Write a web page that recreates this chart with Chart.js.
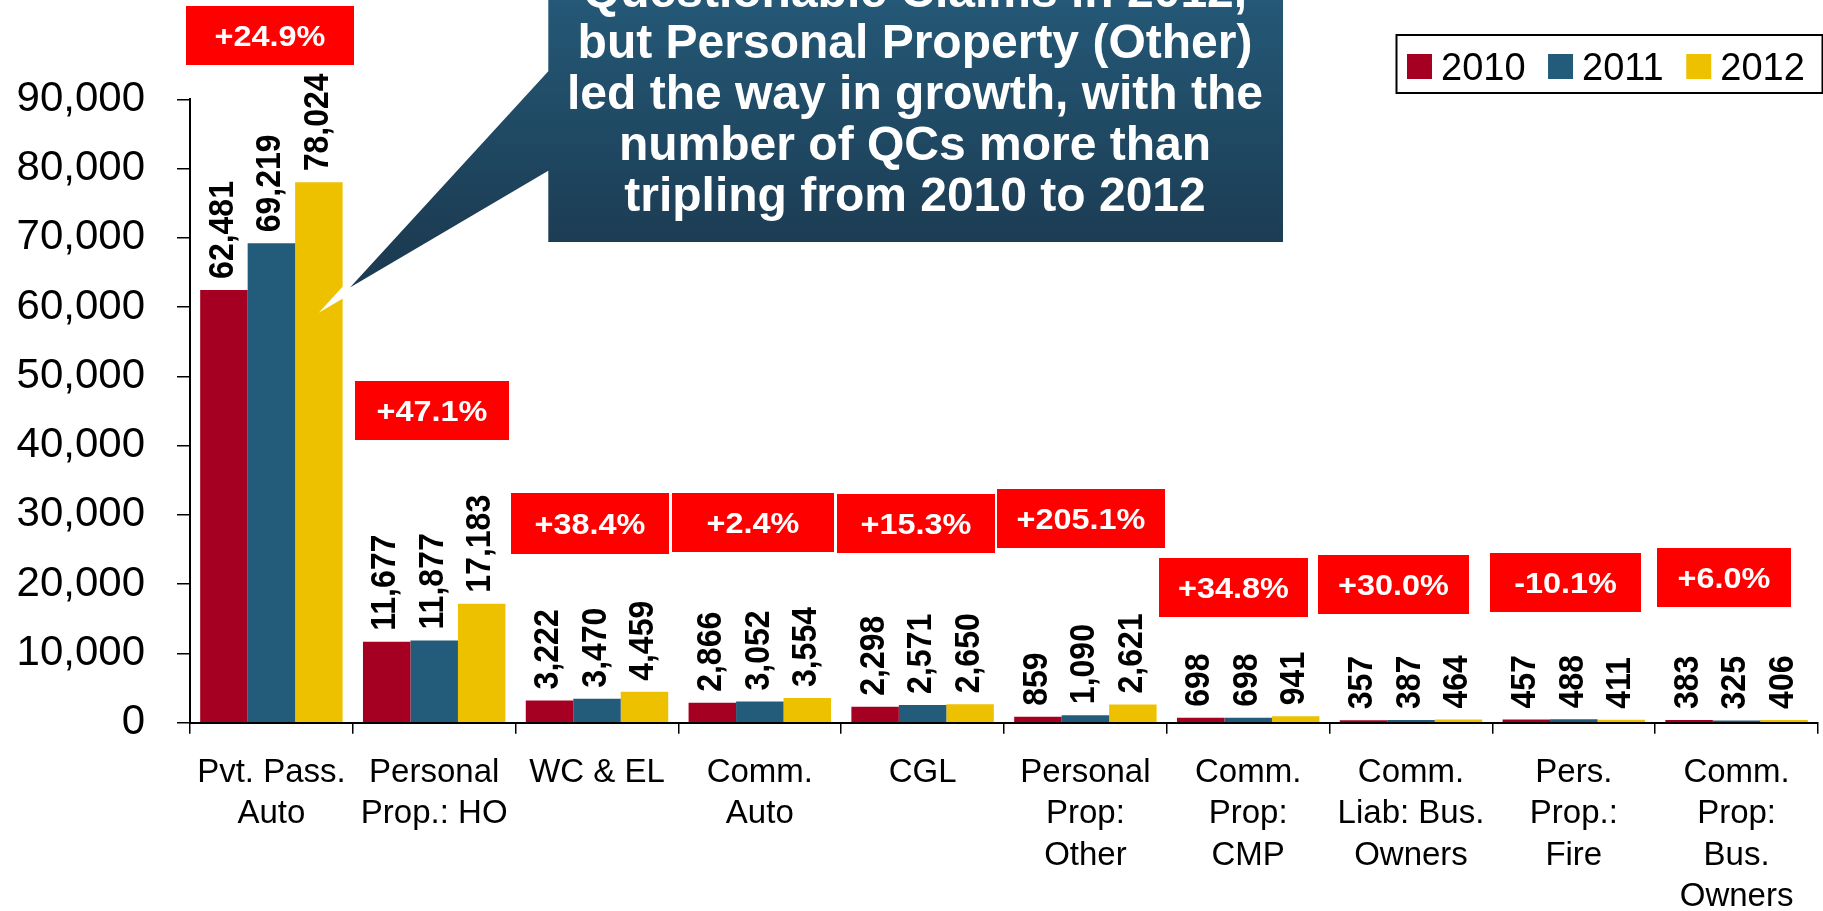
<!DOCTYPE html>
<html>
<head>
<meta charset="utf-8">
<title>Questionable Claims by Line of Insurance, 2010–2012</title>
<script src="https://cdn.jsdelivr.net/npm/chart.js@4.4.1/dist/chart.umd.min.js"></script>
<style>
  html, body { margin: 0; padding: 0; background: #ffffff; overflow: hidden; }
  canvas { display: block; }
</style>
</head>
<body>
<canvas id="chart" width="1823" height="911"></canvas>
<script>
// ---- data ----
const categories = [
  ['Pvt. Pass.', 'Auto'],
  ['Personal', 'Prop.: HO'],
  ['WC & EL'],
  ['Comm.', 'Auto'],
  ['CGL'],
  ['Personal', 'Prop:', 'Other'],
  ['Comm.', 'Prop:', 'CMP'],
  ['Comm.', 'Liab: Bus.', 'Owners'],
  ['Pers.', 'Prop.:', 'Fire'],
  ['Comm.', 'Prop:', 'Bus.', 'Owners']
];
const years = ['2010', '2011', '2012'];
const qc2010 = [62481, 11677, 3222, 2866, 2298, 859, 698, 357, 457, 383];
const qc2011 = [69219, 11877, 3470, 3052, 2571, 1090, 698, 387, 488, 325];
const qc2012 = [78024, 17183, 4459, 3554, 2650, 2621, 941, 464, 411, 406];
const growthLabels = ['+24.9%', '+47.1%', '+38.4%', '+2.4%', '+15.3%', '+205.1%', '+34.8%', '+30.0%', '-10.1%', '+6.0%'];
const yMin = 0, yMax = 90000, yStep = 10000;
const calloutLines = [
  'Questionable Claims in 2012,',
  'but Personal Property (Other)',
  'led the way in growth, with the',
  'number of QCs more than',
  'tripling from 2010 to 2012'
];

// ---- styling ----
const FONT = "'Liberation Sans', Arial, Helvetica, sans-serif";
const seriesColors = ['#A50021', '#235C7B', '#EDC100'];
const series = [qc2010, qc2011, qc2012];
// growth badge placement: [offset of left edge from category centre, width, top, height]
const badgeLayout = [
  [-85.4, 168, 6, 59],
  [-79.2, 154, 381, 59],
  [-86.0, 158, 493, 61],
  [-87.8, 162, 493, 59],
  [-85.6, 158, 494, 59],
  [-88.4, 168, 489, 59],
  [-89.2, 149, 558, 59],
  [-93.0, 151, 555, 59],
  [-83.8, 151, 553, 59],
  [-79.6, 134, 548, 59]
];
const fmt = v => Number(v).toLocaleString('en-US');

// rotated value labels above every bar
const valueLabels = {
  id: 'valueLabels',
  afterDatasetsDraw(chart) {
    const ctx = chart.ctx;
    ctx.save();
    ctx.font = 'bold 32px ' + FONT;
    ctx.fillStyle = '#000000';
    ctx.textAlign = 'left';
    ctx.textBaseline = 'middle';
    chart.data.datasets.forEach((ds, di) => {
      chart.getDatasetMeta(di).data.forEach((bar, i) => {
        ctx.save();
        ctx.translate(bar.x - 1, bar.y - 11);
        ctx.scale(1.1, 1);
        ctx.rotate(-Math.PI / 2);
        ctx.fillText(fmt(ds.data[i]), 0, 0);
        ctx.restore();
      });
    });
    ctx.restore();
  }
};

// red growth badges per category
const growthBadges = {
  id: 'growthBadges',
  afterDraw(chart) {
    const ctx = chart.ctx;
    const xs = chart.scales.x;
    ctx.save();
    growthLabels.forEach((txt, i) => {
      const [dx, w, top, h] = badgeLayout[i];
      const left = xs.getPixelForValue(i) + dx;
      ctx.fillStyle = '#FF0000';
      ctx.fillRect(left, top, w, h);
      ctx.save();
      ctx.translate(left + w / 2, top + h / 2 + 2);
      ctx.scale(1.08, 1);
      ctx.font = 'bold 30px ' + FONT;
      ctx.fillStyle = '#FFFFFF';
      ctx.textAlign = 'center';
      ctx.textBaseline = 'middle';
      ctx.fillText(txt, 0, 0);
      ctx.restore();
    });
    ctx.restore();
  }
};

// boxed legend in the top-right corner
const boxedLegend = {
  id: 'boxedLegend',
  afterDraw(chart) {
    const ctx = chart.ctx;
    ctx.save();
    ctx.strokeStyle = '#000000';
    ctx.lineWidth = 2;
    ctx.strokeRect(1396.5, 35, 426, 58);
    ctx.font = '38px ' + FONT;
    ctx.textAlign = 'left';
    ctx.textBaseline = 'alphabetic';
    let x = 1407;
    chart.data.datasets.forEach(ds => {
      ctx.fillStyle = ds.backgroundColor;
      ctx.fillRect(x, 54, 25, 25);
      ctx.fillStyle = '#000000';
      ctx.fillText(ds.label, x + 34, 80);
      x += 34 + ctx.measureText(ds.label).width + 22.5;
    });
    ctx.restore();
  }
};

// dark callout with a pointer towards the first category
const callout = {
  id: 'callout',
  afterDraw(chart) {
    const ctx = chart.ctx;
    ctx.save();
    const grad = ctx.createLinearGradient(0, -100, 0, 245);
    grad.addColorStop(0, '#29678A');
    grad.addColorStop(0.3, '#245876');
    grad.addColorStop(1, '#1C3C53');
    ctx.beginPath();
    ctx.moveTo(545.3, -100);
    ctx.lineTo(1286, -100);
    ctx.lineTo(1286, 245);
    ctx.lineTo(545.3, 245);
    ctx.lineTo(545.3, 176);
    ctx.lineTo(334.5, 300);
    ctx.lineTo(545.3, 70);
    ctx.closePath();
    ctx.fillStyle = grad;
    ctx.fill();
    ctx.lineJoin = 'miter';
    ctx.miterLimit = 20;
    ctx.lineWidth = 6;
    ctx.strokeStyle = '#FFFFFF';
    ctx.stroke();

    ctx.fillStyle = '#FFFFFF';
    ctx.font = 'bold 48px ' + FONT;
    ctx.textAlign = 'center';
    ctx.textBaseline = 'alphabetic';
    calloutLines.forEach((line, k) => {
      ctx.fillText(line, 915, 7 + 51.1 * k);
    });
    ctx.restore();
  }
};

new Chart(document.getElementById('chart').getContext('2d'), {
  type: 'bar',
  data: {
    labels: categories,
    datasets: years.map((yr, k) => ({
      label: yr,
      data: series[k],
      backgroundColor: seriesColors[k],
      borderWidth: 0,
      categoryPercentage: 0.875,
      barPercentage: 1.0
    }))
  },
  options: {
    responsive: false,
    animation: false,
    devicePixelRatio: 1,
    layout: { padding: { top: 99.3, right: 5, left: 0, bottom: 0 } },
    plugins: {
      legend: { display: false },
      tooltip: { enabled: false }
    },
    scales: {
      x: {
        grid: {
          display: true, drawOnChartArea: false, drawTicks: true,
          tickLength: 11, color: '#000000', lineWidth: 1.5, offset: true
        },
        border: { display: true, color: '#000000', width: 2 },
        ticks: {
          color: '#000000',
          font: { family: FONT, size: 33, lineHeight: 1.26 },
          padding: 18, maxRotation: 0, minRotation: 0, autoSkip: false
        },
        afterFit(scale) { scale.height = 911 - 722.7; }
      },
      y: {
        min: yMin, max: yMax,
        grid: {
          display: true, drawOnChartArea: false, drawTicks: true,
          tickLength: 13, color: '#000000', lineWidth: 1.5
        },
        border: { display: true, color: '#000000', width: 2 },
        ticks: {
          stepSize: yStep, color: '#000000',
          font: { family: FONT, size: 42 },
          padding: 32,
          callback: v => fmt(v)
        },
        afterFit(scale) { scale.width = 190; }
      }
    }
  },
  plugins: [valueLabels, growthBadges, boxedLegend, callout]
});
</script>
</body>
</html>
